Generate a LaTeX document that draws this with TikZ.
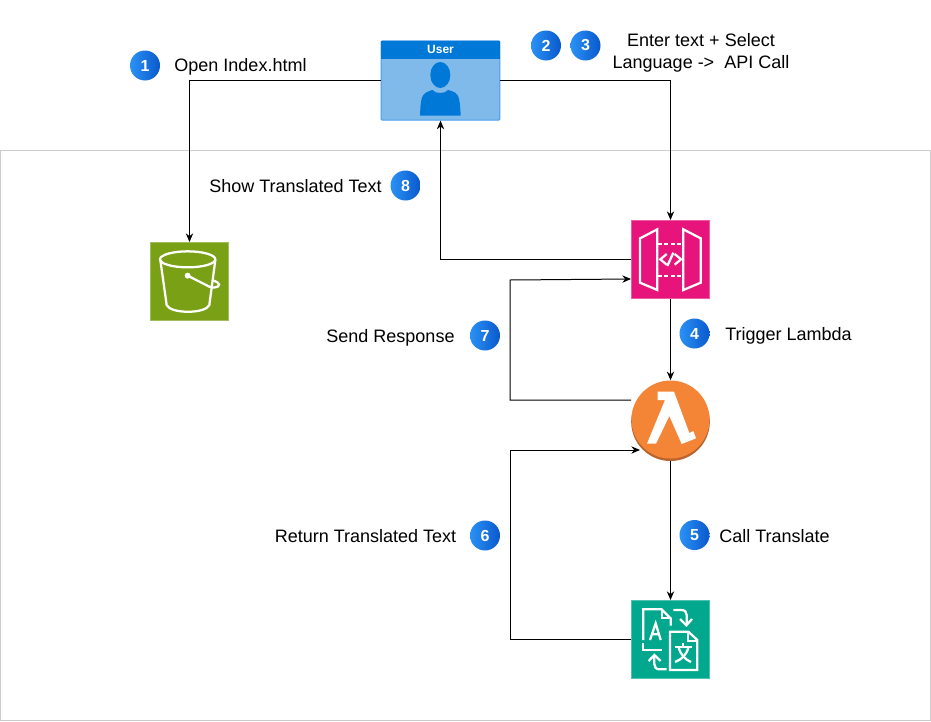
\documentclass[tikz,border=0pt]{standalone}
\usepackage{fontspec}
\setmainfont{Liberation Sans}
\usetikzlibrary{arrows.meta}
\definecolor{framegray}{HTML}{CCCCCC}
\definecolor{userblue}{HTML}{0078D7}
\definecolor{userlight}{HTML}{7FBAEB}
\definecolor{userline}{HTML}{4A9DE8}
\definecolor{bucketgreen}{HTML}{7AA116}
\definecolor{apipink}{HTML}{E7157B}
\definecolor{lambdaorange}{HTML}{F58536}
\definecolor{lambdadark}{HTML}{B8652E}
\definecolor{translategreen}{HTML}{01A88D}
\definecolor{badgeleft}{HTML}{2A92F5}
\definecolor{badgeright}{HTML}{0A58CC}
\tikzset{
  flow/.style={draw=black, line width=.75pt, -{Stealth[length=6.5pt,width=5.5pt]}},
  badge/.style={circle, minimum size=22.5pt, inner sep=0pt, left color=badgeleft, right color=badgeright, text=white, font=\fontsize{12}{14}\selectfont\bfseries},
  lbl/.style={font=\fontsize{13.5}{16.5}\selectfont, align=center},
  awsbox/.style={minimum size=58.75pt, inner sep=0pt, draw=#1!70!white, fill=#1, line width=.5pt},
  icon/.style={draw=white, line width=1.7pt, line join=miter}
}
\begin{document}
\begin{tikzpicture}[x=.75pt, y=-.75pt]
\useasboundingbox (0,0) rectangle (931,721);
\draw[framegray, line width=.75pt] (0,150.5) rectangle (930.5,720.5);

% user
\node[minimum width=89pt, minimum height=59.5pt, inner sep=0pt, draw=userline, fill=userlight, rounded corners=.8pt, line width=.75pt] (user) at (440.5,80.5) {};
\fill[userblue] (381,41) rectangle (500,58.5);
\node[text=white, font=\fontsize{9}{11}\selectfont\bfseries] (usertitle) at (440.5,49) {User};
\fill[userblue] (440.3,75) ellipse (10 and 13);
\fill[userblue] (420,115.7) .. controls (420.5,103) and (421,95) .. (426,92.5) .. controls (429,91) and (431,90.5) .. (432.5,90) .. controls (435,94) and (445.5,94) .. (448,90) .. controls (450,90.5) and (452,91) .. (455,92.5) .. controls (459.5,95) and (460,103) .. (460.7,115.7) -- cycle;

% s3
\node[awsbox=bucketgreen] (bucket) at (189.5,281.5) {};
\begin{scope}[shift={(130,230)}, x=.25pt, y=-.25pt]
\draw[icon] (173,88) ellipse (83 and 24);
\draw[icon] (91,90) -- (110,225) .. controls (120,252) and (228,252) .. (238,225) -- (256,90);
\draw[icon] (173,137) -- (238,170) .. controls (262,178) and (275,165) .. (262,157) .. controls (258,154) and (252,152) .. (247,151);
\fill[white] (173,137) circle (9);
\end{scope}

% api gateway
\node[awsbox=apipink] (api) at (670.5,259.5) {};
\begin{scope}[shift={(610,210)}, x=.25pt, y=-.25pt]
\draw[icon] (90,85) -- (142,58) -- (142,240) -- (90,218) -- cycle;
\draw[icon] (220,58) -- (272,85) -- (272,218) -- (220,240) -- cycle;
\draw[icon, dash pattern=on 3pt off 1.6pt] (145,102) -- (218,102);
\draw[icon, dash pattern=on 3pt off 1.6pt] (145,197) -- (218,197);
\draw[icon] (170,132) -- (151,148) -- (170,164);
\draw[icon] (172,168) -- (190,128);
\draw[icon] (194,132) -- (213,148) -- (194,164);
\end{scope}

% lambda
\node[circle, minimum size=59pt, inner sep=0pt, fill=lambdadark] (lambdabase) at (670.5,421.7) {};
\node[circle, minimum size=58.5pt, inner sep=0pt, fill=lambdaorange] (lambda) at (670.5,419.5) {};
\begin{scope}[shift={(610,370)}, x=.25pt, y=-.25pt]
\fill[white] (143,65) -- (192,65) -- (238,189) -- (250,183) -- (258,205) -- (215,222) -- (178,138) -- (138,221) -- (111,221) -- (165,90) -- (143,90) -- cycle;
\end{scope}

% translate
\node[awsbox=translategreen] (translate) at (670.5,639.5) {};
\begin{scope}[shift={(620,590)}, x=.25pt, y=-.25pt]
\draw[icon] (70,150) -- (70,58) -- (125,58) -- (152,85) -- (152,107);
\draw[icon] (125,58) -- (125,85) -- (152,85);
\draw[icon] (70,158) -- (70,180) -- (125,180);
\draw[icon] (90,150) -- (107,100) -- (122,150) (95,133) -- (118,133);
\draw[icon] (150,125) -- (205,125) -- (232,150) -- (232,240) -- (150,240) -- cycle;
\draw[icon] (205,125) -- (205,152) -- (232,152);
\draw[icon] (165,172) -- (215,172) (190,160) -- (190,172);
\draw[icon] (176,172) .. controls (182,195) and (195,208) .. (213,216);
\draw[icon] (205,172) .. controls (200,195) and (185,208) .. (165,216);
\draw[icon] (160,60) -- (185,60) .. controls (195,60) and (200,67) .. (200,75) -- (200,104);
\draw[icon] (180,87) -- (199,106) -- (216,87);
\draw[icon] (140,238) -- (118,238) .. controls (108,238) and (103,231) .. (103,222) -- (103,195);
\draw[icon] (86,213) -- (103,195) -- (122,213);
\end{scope}

% connectors
\coordinate (apiout) at (631,259.5);
\coordinate (sendout) at (631,400);
\coordinate (sendup) at (510,280);
\coordinate (sendin) at (631,279);
\coordinate (returnup) at (510,450);
\coordinate (returnin) at (640,450);
\draw[flow] (user.west) -| (bucket.north);
\draw[flow] (user.east) -| (api.north);
\draw[flow] (apiout) -| (user.south);
\draw[flow] (api.south) -- (lambda.north);
\draw[flow] (sendout) -| (sendup) -- (sendin);
\draw[flow] (lambdabase.south) -- (translate.north);
\draw[flow] (translate.west) -| (returnup) -- (returnin);

% badges and labels
\node[badge] (one) at (145,65.5) {1};
\node[badge] (two) at (546,45.5) {2};
\node[badge] (three) at (585.5,45.5) {3};
\node[badge] (four) at (694.5,333.5) {4};
\node[badge] (five) at (694.5,535) {5};
\node[badge] (six) at (485,535.5) {6};
\node[badge] (seven) at (485,335.5) {7};
\node[badge] (eight) at (405.5,185.5) {8};
\node[lbl] (openlbl) at (240.5,67) {Open Index.html};
\node[lbl] (enterlbl) at (701,52.5) {Enter text + Select\\Language ->\ \ API Call};
\node[lbl] (showlbl) at (295.5,186.5) {Show Translated Text};
\node[lbl] (sendlbl) at (390.5,337.5) {Send Response};
\node[lbl] (triggerlbl) at (788.5,335.5) {Trigger Lambda};
\node[lbl] (calllbl) at (774.5,536.5) {Call Translate};
\node[lbl] (returnlbl) at (365.5,536.5) {Return Translated Text};
\end{tikzpicture}
\end{document}
